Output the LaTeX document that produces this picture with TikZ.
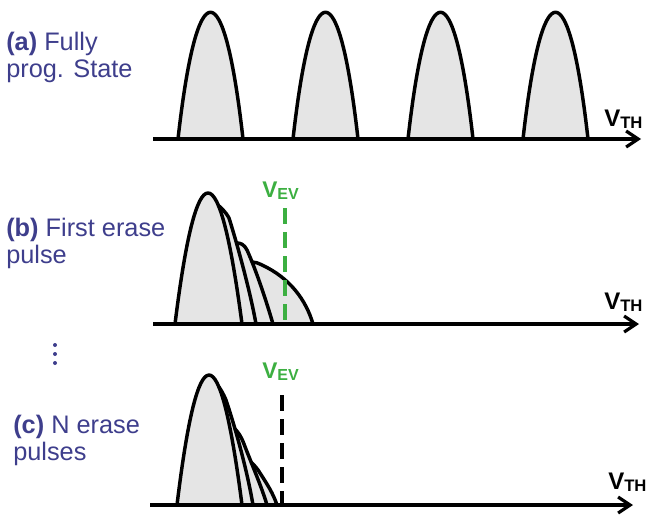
\documentclass[tikz,border=0pt]{standalone}
\usepackage{fontspec}
\setmainfont{Liberation Sans}
\usetikzlibrary{arrows.meta}
\definecolor{labelblue}{RGB}{62,62,140}
\definecolor{evgreen}{RGB}{60,175,65}
\definecolor{distgray}{RGB}{229,229,229}
% voltage symbol with a lowered, smaller subscript
\newcommand\voltsym[2]{\textbf{\fontsize{18}{19}\selectfont #1\raisebox{-1.5pt}{\fontsize{12.5}{13}\selectfont #2}}}
\newcommand\evsym{\textbf{\fontsize{17}{18}\selectfont V\raisebox{-1.5pt}{\fontsize{12}{13}\selectfont EV}}}
\begin{document}
\begin{tikzpicture}[x=0.75pt,y=-0.75pt,
  caption/.style={inner sep=0pt,anchor=base west,text=labelblue,font=\fontsize{19}{20}\selectfont},
  vlabel/.style={inner sep=0pt,anchor=base west},
  distline/.style={draw=black,line width=2.6pt,line join=round,line cap=round},
  distfill/.style={fill=distgray},
  axisline/.style={line width=2.4pt,-{Straight Barb[length=9pt,width=12pt]}},
  evline/.style={line width=2.8pt,dash pattern=on 12pt off 6pt}]
\useasboundingbox (0,0) rectangle (648,519);

% ---------------- (a) fully programmed state ----------------
\node[caption] (capa1) at (6,50) {\textbf{(a)} Fully};
\node[caption] (capa2) at (6,77) {prog. State};
\foreach \c in {211,326,441,556}{
  \path[distfill] ({\c-33},139) .. controls ({\c-14},-30) and ({\c+13},-30) .. ({\c+32},139) -- cycle;
  \draw[distline] ({\c-33},139) .. controls ({\c-14},-30) and ({\c+13},-30) .. ({\c+32},139);
}
\coordinate (axa0) at (153,139);
\coordinate (axa1) at (641,139);
\draw[axisline] (axa0) -- (axa1);
\node[vlabel] (vtha) at (604,126) {\voltsym{V}{TH}};

% ---------------- (b) first erase pulse ----------------
\node[caption] (capb1) at (6,236) {\textbf{(b)} First erase};
\node[caption] (capb2) at (6,263) {pulse};
% fills
\path[distfill] (175,324) .. controls (196.7,149.3) and (219,149.3) .. (242,324) -- cycle;
\path[distfill] (218,205) .. controls (222,209) and (225,211) .. (229,218)
  .. controls (236,240) and (250,290) .. (256,324) -- (218,324) -- cycle;
\path[distfill] (237,243) .. controls (240,243) and (244,244) .. (247,250)
  .. controls (256,270) and (266,300) .. (273,324) -- (237,324) -- cycle;
\path[distfill] (252,262) .. controls (255,262) and (258,263) .. (262,265)
  .. controls (290,278) and (306,300) .. (313,324) -- (252,324) -- cycle;
% outlines
\draw[distline] (175,324) .. controls (196.7,149.3) and (219,149.3) .. (242,324);
\draw[distline] (218,205) .. controls (222,209) and (225,211) .. (229,218)
  .. controls (236,240) and (250,290) .. (256,324);
\draw[distline] (237,243) .. controls (240,243) and (244,244) .. (247,250)
  .. controls (256,270) and (266,300) .. (273,324);
\draw[distline] (252,262) .. controls (255,262) and (258,263) .. (262,265)
  .. controls (290,278) and (306,300) .. (313,324);
\coordinate (axb0) at (153,324);
\coordinate (axb1) at (639,324);
\draw[axisline] (axb0) -- (axb1);
\coordinate (evb0) at (285,208);
\coordinate (evb1) at (285,324);
\draw[evline,draw=evgreen] (evb0) -- (evb1);
\node[vlabel,text=evgreen] (veva) at (262,197) {\evsym};
\node[vlabel] (vthb) at (604,309) {\voltsym{V}{TH}};

% continuation dots
\foreach \yy in {345,354,363}{ \fill[labelblue] (55,\yy) circle (2); }

% ---------------- (c) after N erase pulses ----------------
\node[caption] (capc1) at (13,433) {\textbf{(c)} N erase};
\node[caption] (capc2) at (13,460) {pulses};
% fills
\path[distfill] (177,505) .. controls (198,331.7) and (219.7,331.7) .. (242,505) -- cycle;
\path[distfill] (219,387) .. controls (221,390) and (223,393) .. (226,400)
  .. controls (236,430) and (247,470) .. (253,505) -- (219,505) -- cycle;
\path[distfill] (235,429) .. controls (238,432) and (241,436) .. (244,444)
  .. controls (252,465) and (261,485) .. (267,505) -- (235,505) -- cycle;
\path[distfill] (251,462) .. controls (254,465) and (257,468) .. (260,473)
  .. controls (267,484) and (273,493) .. (277,505) -- (251,505) -- cycle;
% outlines
\draw[distline] (177,505) .. controls (198,331.7) and (219.7,331.7) .. (242,505);
\draw[distline] (219,387) .. controls (221,390) and (223,393) .. (226,400)
  .. controls (236,430) and (247,470) .. (253,505);
\draw[distline] (235,429) .. controls (238,432) and (241,436) .. (244,444)
  .. controls (252,465) and (261,485) .. (267,505);
\draw[distline] (251,462) .. controls (254,465) and (257,468) .. (260,473)
  .. controls (267,484) and (273,493) .. (277,505);
\coordinate (axc0) at (150,505);
\coordinate (axc1) at (633,505);
\draw[axisline] (axc0) -- (axc1);
\coordinate (evc0) at (282,395);
\coordinate (evc1) at (282,505);
\draw[evline,draw=black] (evc0) -- (evc1);
\node[vlabel,text=evgreen] (vevc) at (262,378) {\evsym};
\node[vlabel] (vthc) at (608,489) {\voltsym{V}{TH}};
\end{tikzpicture}
\end{document}
